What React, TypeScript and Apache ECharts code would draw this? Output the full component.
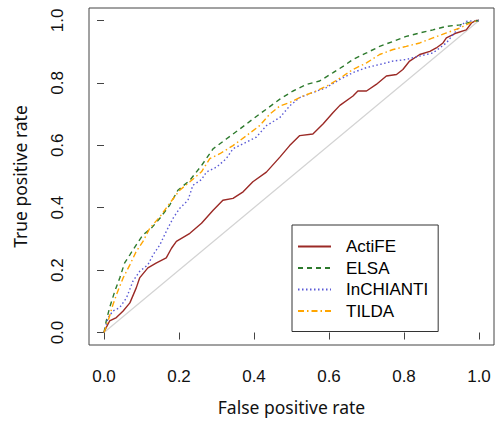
import React, { useEffect, useRef } from "react";
import * as echarts from "echarts";

const seriesNames = ["ActiFE", "ELSA", "InCHIANTI", "TILDA"];
const tickValues = [0, 0.2, 0.4, 0.6, 0.8, 1.0];

const actifeFpr = [0, 0.002, 0.015, 0.033, 0.051, 0.069, 0.086, 0.095, 0.117, 0.14, 0.166, 0.18, 0.193, 0.229, 0.26, 0.291, 0.317, 0.344, 0.371, 0.397, 0.433, 0.469, 0.495, 0.522, 0.557, 0.584, 0.611, 0.629, 0.664, 0.677, 0.7, 0.726, 0.753, 0.78, 0.797, 0.815, 0.842, 0.869, 0.886, 0.904, 0.913, 0.94, 0.966, 0.98, 0.993, 1];
const actifeTpr = [0, 0.007, 0.037, 0.048, 0.069, 0.095, 0.143, 0.175, 0.207, 0.223, 0.239, 0.27, 0.292, 0.318, 0.35, 0.392, 0.424, 0.43, 0.451, 0.483, 0.514, 0.562, 0.599, 0.631, 0.636, 0.668, 0.705, 0.728, 0.758, 0.774, 0.774, 0.795, 0.822, 0.827, 0.843, 0.87, 0.891, 0.901, 0.912, 0.928, 0.944, 0.96, 0.97, 0.992, 1.0, 1];

const elsaFpr = [0, 0.006, 0.015, 0.029, 0.042, 0.055, 0.069, 0.086, 0.104, 0.126, 0.149, 0.175, 0.197, 0.229, 0.26, 0.291, 0.326, 0.362, 0.397, 0.433, 0.469, 0.504, 0.54, 0.575, 0.611, 0.64, 0.664, 0.7, 0.735, 0.771, 0.806, 0.842, 0.877, 0.913, 0.949, 0.984, 1];
const elsaTpr = [0, 0.037, 0.08, 0.133, 0.175, 0.223, 0.249, 0.281, 0.313, 0.334, 0.366, 0.408, 0.456, 0.488, 0.535, 0.589, 0.62, 0.652, 0.684, 0.716, 0.748, 0.774, 0.795, 0.806, 0.833, 0.855, 0.875, 0.896, 0.917, 0.933, 0.949, 0.96, 0.97, 0.981, 0.986, 0.997, 1];

const inchiantiFpr = [0, 0.011, 0.024, 0.042, 0.06, 0.077, 0.095, 0.117, 0.131, 0.149, 0.166, 0.184, 0.202, 0.224, 0.237, 0.26, 0.273, 0.3, 0.326, 0.344, 0.371, 0.406, 0.433, 0.469, 0.495, 0.522, 0.557, 0.593, 0.629, 0.664, 0.7, 0.735, 0.771, 0.806, 0.842, 0.877, 0.895, 0.913, 0.931, 0.949, 0.966, 1];
const inchiantiTpr = [0, 0.048, 0.069, 0.08, 0.111, 0.164, 0.196, 0.217, 0.249, 0.281, 0.324, 0.366, 0.398, 0.424, 0.472, 0.49, 0.514, 0.53, 0.557, 0.589, 0.605, 0.626, 0.663, 0.689, 0.726, 0.753, 0.769, 0.785, 0.811, 0.833, 0.849, 0.859, 0.87, 0.875, 0.886, 0.896, 0.912, 0.928, 0.955, 0.981, 0.997, 1];

const tildaFpr = [0, 0.011, 0.024, 0.037, 0.051, 0.069, 0.086, 0.104, 0.122, 0.149, 0.175, 0.202, 0.229, 0.26, 0.282, 0.309, 0.344, 0.38, 0.415, 0.442, 0.469, 0.495, 0.531, 0.566, 0.602, 0.629, 0.664, 0.7, 0.735, 0.771, 0.806, 0.842, 0.877, 0.913, 0.949, 0.984, 1];
const tildaTpr = [0, 0.037, 0.09, 0.133, 0.175, 0.217, 0.26, 0.292, 0.334, 0.371, 0.414, 0.456, 0.483, 0.515, 0.557, 0.573, 0.599, 0.631, 0.663, 0.7, 0.726, 0.737, 0.758, 0.774, 0.795, 0.815, 0.843, 0.864, 0.891, 0.907, 0.917, 0.928, 0.944, 0.96, 0.976, 0.997, 1];

const diagonalFpr = [0, 1];
const diagonalTpr = [0, 1];

const zip = (xs: number[], ys: number[]) => xs.map((x, i) => [x, ys[i]]);

const tickFont = "'Liberation Sans', Arial, sans-serif";
const titleFont = "'Noto Sans', 'Open Sans', sans-serif";

export default function App() {
  const ref = useRef<HTMLDivElement>(null);
  useEffect(() => {
    if (!ref.current) return;
    const chart = echarts.init(ref.current, undefined, { renderer: "svg" });
    const lineSeries = (name: string, data: number[][], color: string, type: any, width = 1.4) => ({
      name,
      type: "line",
      data,
      showSymbol: false,
      symbol: "none",
      silent: true,
      color,
      lineStyle: { color, width, type },
    });
    chart.setOption({
      animation: false,
      backgroundColor: "#ffffff",
      grid: { left: 89, top: 8, width: 405, height: 339.5, show: true, borderColor: "#444", borderWidth: 1, backgroundColor: "transparent" },
      legend: {
        data: seriesNames,
        orient: "vertical",
        left: 292,
        top: 225,
        borderColor: "#333",
        borderWidth: 1,
        padding: [13, 10, 12, 5],
        itemWidth: 33,
        itemHeight: 14,
        itemGap: 4.5,
        selectedMode: false,
        itemStyle: { opacity: 0, borderWidth: 0 },
        textStyle: { fontFamily: tickFont, fontSize: 17, color: "#000", padding: [0, 0, 0, 10] },
      },
      xAxis: {
        type: "value",
        min: -0.04,
        max: 1.04,
        name: "False positive rate",
        nameLocation: "middle",
        nameGap: 53,
        nameTextStyle: { fontFamily: titleFont, fontSize: 17.5, color: "#111" },
        axisLine: { show: false },
        splitLine: { show: false },
        axisTick: { show: true, length: 7, lineStyle: { color: "#444" }, customValues: tickValues },
        axisLabel: {
          customValues: tickValues,
          formatter: (v: number) => v.toFixed(1),
          fontFamily: tickFont,
          fontSize: 17,
          color: "#111",
          margin: 23,
        },
      },
      yAxis: {
        type: "value",
        min: -0.04,
        max: 1.04,
        name: "True positive rate",
        nameLocation: "middle",
        nameGap: 60,
        nameTextStyle: { fontFamily: titleFont, fontSize: 17.5, color: "#111" },
        axisLine: { show: false },
        splitLine: { show: false },
        axisTick: { show: true, length: 7, lineStyle: { color: "#444" }, customValues: tickValues },
        axisLabel: {
          customValues: tickValues,
          formatter: (v: number) => v.toFixed(1),
          fontFamily: tickFont,
          fontSize: 17,
          color: "#111",
          rotate: 90,
          margin: 23,
        },
      },
      series: [
        {
          name: "diagonal",
          type: "line",
          data: zip(diagonalFpr, diagonalTpr),
          showSymbol: false,
          symbol: "none",
          silent: true,
          lineStyle: { color: "#d3d3d3", width: 1.2 },
          z: 1,
        },
        lineSeries("ActiFE", zip(actifeFpr, actifeTpr), "#9b2a26", "solid"),
        lineSeries("ELSA", zip(elsaFpr, elsaTpr), "#2d7a2d", [5, 4]),
        lineSeries("InCHIANTI", zip(inchiantiFpr, inchiantiTpr), "#5a5ad6", [1.5, 2.5]),
        lineSeries("TILDA", zip(tildaFpr, tildaTpr), "#ffa500", [6, 3, 1.5, 3]),
      ],
    });
    return () => chart.dispose();
  }, []);
  return <div ref={ref} style={{ width: 497, height: 421, position: "absolute", left: 0, top: 0 }} />;
}
